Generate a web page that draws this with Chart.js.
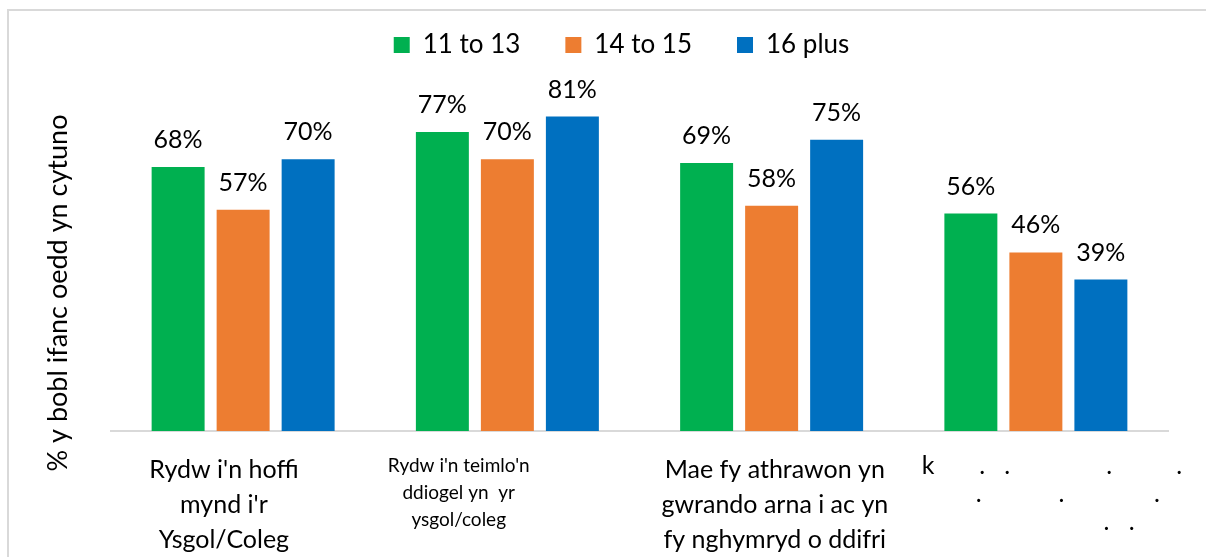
<!DOCTYPE html>
<html>
<head>
<meta charset="utf-8">
<script src="https://cdn.jsdelivr.net/npm/chart.js@4.4.1/dist/chart.umd.min.js"></script>
<style>
  html, body { margin: 0; padding: 0; background: #fff; overflow: hidden; }
  #frame { position: absolute; left: 7px; top: 9px; width: 1400px; height: 800px; border: 2px solid #d9d9d9; }
  #wrap { position: absolute; left: 0; top: 0; width: 1206px; height: 557px; }
</style>
</head>
<body>
<div id="frame"></div>
<div id="wrap"><canvas id="chart"></canvas></div>
<script>
// Label kategori (baris ganda, spasi ikut dari sumber aslinya)
var CATEGORIES = [
    ["Rydw i'n hoffi      ", "mynd i'r      ", "Ysgol/Coleg      "],
    ["Rydw i'n teimlo'n                    ", "ddiogel yn  yr                    ", "ysgol/coleg                    "],
    [" Mae fy athrawon yn", " gwrando arna i ac yn", " fy nghymryd o ddifri"],
    ["     k       .   .               .          .",
     "          .            .              .",
     "                          .   ."]
];

var SERIES_NAMES = ['11 to 13', '14 to 15', '16 plus'];
var SERIES_COLORS = ['#00B050', '#ED7D31', '#0070C0'];

var VALUES_11_13 = [68, 77, 69, 56];
var VALUES_14_15 = [57, 70, 58, 46];
var VALUES_16_PLUS = [70, 81, 75, 39];

var Y_TITLE = '% y bobl ifanc oedd yn cytuno';

Chart.defaults.font.family = 'Lato';
Chart.defaults.color = '#000';

// Label persen di atas bar
var barValueLabels = {
    id: 'barValueLabels',
    afterDatasetsDraw(chart) {
        const ctx = chart.ctx;
        ctx.save();
        ctx.font = '25px Lato';
        ctx.fillStyle = '#000';
        ctx.textAlign = 'center';
        ctx.textBaseline = 'alphabetic';
        chart.data.datasets.forEach((ds, i) => {
            chart.getDatasetMeta(i).data.forEach((bar, j) => {
                ctx.fillText(ds.data[j] + '%', bar.x, bar.y - 19);
            });
        });
        ctx.restore();
    }
};

// Judul sumbu Y (diputar)
var yAxisTitle = {
    id: 'yAxisTitle',
    afterDraw(chart) {
        const ctx = chart.ctx;
        ctx.save();
        ctx.translate(58, 293);
        ctx.rotate(-Math.PI / 2);
        ctx.font = '27px Lato';
        ctx.fillStyle = '#000';
        ctx.textAlign = 'center';
        ctx.textBaseline = 'middle';
        ctx.fillText(Y_TITLE, 0, 0);
        ctx.restore();
    }
};

const ctx = document.getElementById('chart').getContext('2d');

new Chart(ctx, {
    type: 'bar',
    data: {
        labels: CATEGORIES,
        datasets: [
            { label: SERIES_NAMES[0], backgroundColor: SERIES_COLORS[0], data: VALUES_11_13 },
            { label: SERIES_NAMES[1], backgroundColor: SERIES_COLORS[1], data: VALUES_14_15 },
            { label: SERIES_NAMES[2], backgroundColor: SERIES_COLORS[2], data: VALUES_16_PLUS }
        ]
    },
    plugins: [barValueLabels, yAxisTitle],
    options: {
        responsive: true,
        maintainAspectRatio: false,
        animation: false,
        categoryPercentage: 0.738,
        barPercentage: 0.815,
        layout: { padding: { left: 75, right: 38, top: -13, bottom: 0 } },
        plugins: {
            legend: {
                position: 'top',
                labels: {
                    boxWidth: 16,
                    boxHeight: 16,
                    padding: 45,
                    font: { size: 26 },
                    color: '#000'
                }
            },
            tooltip: { enabled: false }
        },
        scales: {
            x: {
                grid: { display: false, drawTicks: false },
                border: { display: true, color: '#d9d9d9', width: 2 },
                ticks: {
                    padding: 21,
                    maxRotation: 0,
                    minRotation: 0,
                    autoSkip: false,
                    color: '#000',
                    font: function (c) {
                        if (c.index === 1) return { size: 19, lineHeight: 1.42 };
                        if (c.index === 3) return { size: 25, lineHeight: 1.12 };
                        return { size: 25, lineHeight: 1.4 };
                    }
                },
                afterFit: function (scale) {
                    scale.height = 126;
                    scale.paddingLeft = 0;
                    scale.paddingRight = 0;
                }
            },
            y: {
                min: 0,
                max: 93.5,
                ticks: { display: false },
                grid: { display: false, drawTicks: false },
                border: { display: false },
                afterFit: function (scale) {
                    scale.width = 36;
                }
            }
        }
    }
});
</script>
</body>
</html>
